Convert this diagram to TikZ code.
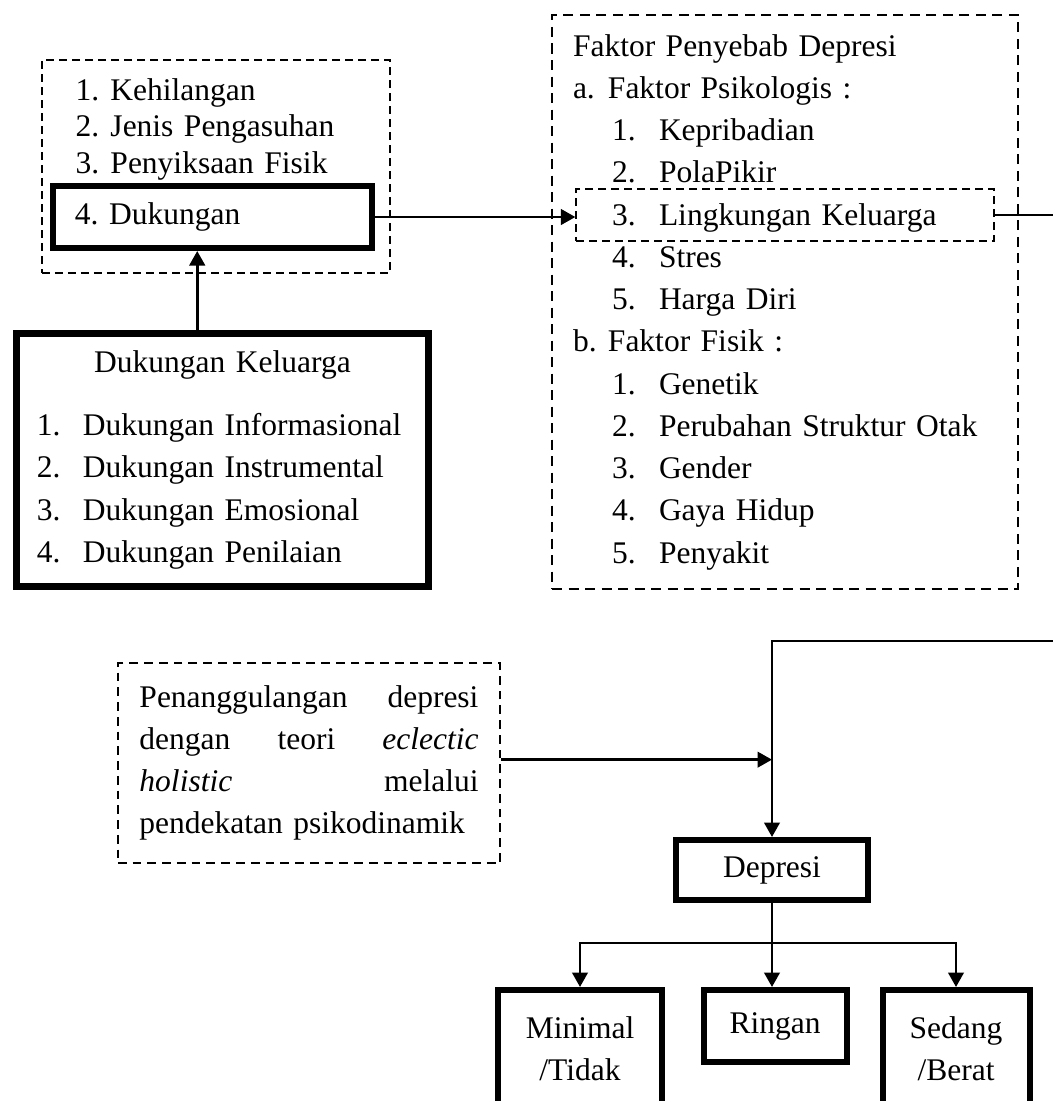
\documentclass[tikz,border=0pt]{standalone}
\usepackage{fontspec}
\setmainfont{Liberation Serif}
\usetikzlibrary{arrows.meta}

\newcommand{\nomor}[3][18.8pt]{\makebox[#1][l]{#2}#3}

\tikzset{
  teks/.style={font=\fontsize{12.6pt}{16.9pt}\selectfont, inner sep=0pt},
  kotaktebal/.style={draw, line width=2.4pt, teks},
  garistipis/.style={draw, line width=0.5pt, dash pattern=on 3.2pt off 2pt},
  garisputus/.style={draw, line width=1pt, dash pattern=on 4pt off 2.6pt},
  panah/.style={line width=1.1pt, -{Triangle[width=6.2pt,length=5.8pt]}},
}

\begin{document}
\begin{tikzpicture}[x=0.4pt, y=-0.4pt]
    \useasboundingbox (0,0) rectangle (1053,1101);
    % kiri atas
    \node[garistipis, minimum width=139.2pt, minimum height=85.2pt] (faktorlain) at (216,166.5) {};
    \node[teks, anchor=base west, text width=120pt, font=\fontsize{12.6pt}{14.6pt}\selectfont] (daftarlain) at (75,100)
        {\nomor[14pt]{1.}{Kehilangan}\\ \nomor[14pt]{2.}{Jenis Pengasuhan}\\ \nomor[14pt]{3.}{Penyiksaan Fisik}};
    \node[kotaktebal, minimum width=127.6pt, minimum height=24.8pt, text width=110pt] (dukungan) at (212.5,217) {4.\ Dukungan};
    \node[kotaktebal, line width=2.8pt, minimum width=164.8pt, minimum height=101.2pt, text width=148.4pt,
          font=\fontsize{12.6pt}{17pt}\selectfont] (keluarga) at (222.5,460)
        {\makebox[148.4pt]{Dukungan Keluarga}\\[8.2pt]
         \nomor[18.4pt]{1.}{Dukungan Informasional}\\
         \nomor[18.4pt]{2.}{Dukungan Instrumental}\\
         \nomor[18.4pt]{3.}{Dukungan Emosional}\\
         \nomor[18.4pt]{4.}{Dukungan Penilaian}};
    % kanan atas
    \node[garisputus, teks, minimum width=186.4pt, minimum height=229.6pt, text width=169.6pt] (faktor) at (785,302)
        {Faktor Penyebab Depresi\\
         \nomor[14pt]{a.}{Faktor Psikologis :}\\
         \hspace*{15.6pt}\nomor{1.}{Kepribadian}\\
         \hspace*{15.6pt}\nomor{2.}{PolaPikir}\\
         \hspace*{15.6pt}\nomor{3.}{Lingkungan Keluarga}\\
         \hspace*{15.6pt}\nomor{4.}{Stres}\\
         \hspace*{15.6pt}\nomor{5.}{Harga Diri}\\
         \nomor[14pt]{b.}{Faktor Fisik :}\\
         \hspace*{15.6pt}\nomor{1.}{Genetik}\\
         \hspace*{15.6pt}\nomor{2.}{Perubahan Struktur Otak}\\
         \hspace*{15.6pt}\nomor{3.}{Gender}\\
         \hspace*{15.6pt}\nomor{4.}{Gaya Hidup}\\
         \hspace*{15.6pt}\nomor{5.}{Penyakit}};
    \node[garistipis, minimum width=167.2pt, minimum height=20.8pt] (lingk) at (785,215) {};
    % bawah
    \node[draw, line width=0.9pt, dash pattern=on 3.5pt off 2.4pt, teks, minimum width=152.8pt, minimum height=80pt,
          text width=135.6pt] (tangani) at (309,763)
        {Penanggulangan\hfill depresi\\
         dengan\hfill teori\hfill \textit{eclectic}\\
         \textit{holistic}\hfill melalui\\
         pendekatan psikodinamik};
    \node[kotaktebal, minimum width=76.8pt, minimum height=24pt] (depresi) at (772,870) {Depresi};
    \node[kotaktebal, minimum width=65.6pt, minimum height=47.2pt, align=center] (minimal) at (580,1049) {Minimal\\/Tidak};
    \node[kotaktebal, minimum width=57.2pt, minimum height=28.8pt] (ringan) at (775,1026) {Ringan};
    \node[kotaktebal, minimum width=58.8pt, minimum height=47.2pt, align=center] (sedang) at (956,1049) {Sedang\\/Berat};
    \coordinate (tepiA) at (1053,215);
    \coordinate (tepiB) at (1053,641);
    \coordinate (cabang) at (772,943);
    % garis
    \draw[panah] (keluarga.101) -- (keluarga.101 |- dukungan.south);
    \draw[panah] (dukungan.east) -- (dukungan.east -| lingk.west);
    \draw[line width=0.8pt] (lingk.east) -- (tepiA);
    \draw[panah] (tepiB) -| (depresi.north);
    \draw[panah] (tangani.1.5) -- (tangani.1.5 -| depresi.north);
    \draw[panah] (depresi.south) -- (depresi.south |- ringan.north);
    \draw[panah] (cabang) -| (minimal.north);
    \draw[panah] (cabang) -| (sedang.north);
\end{tikzpicture}
\end{document}
